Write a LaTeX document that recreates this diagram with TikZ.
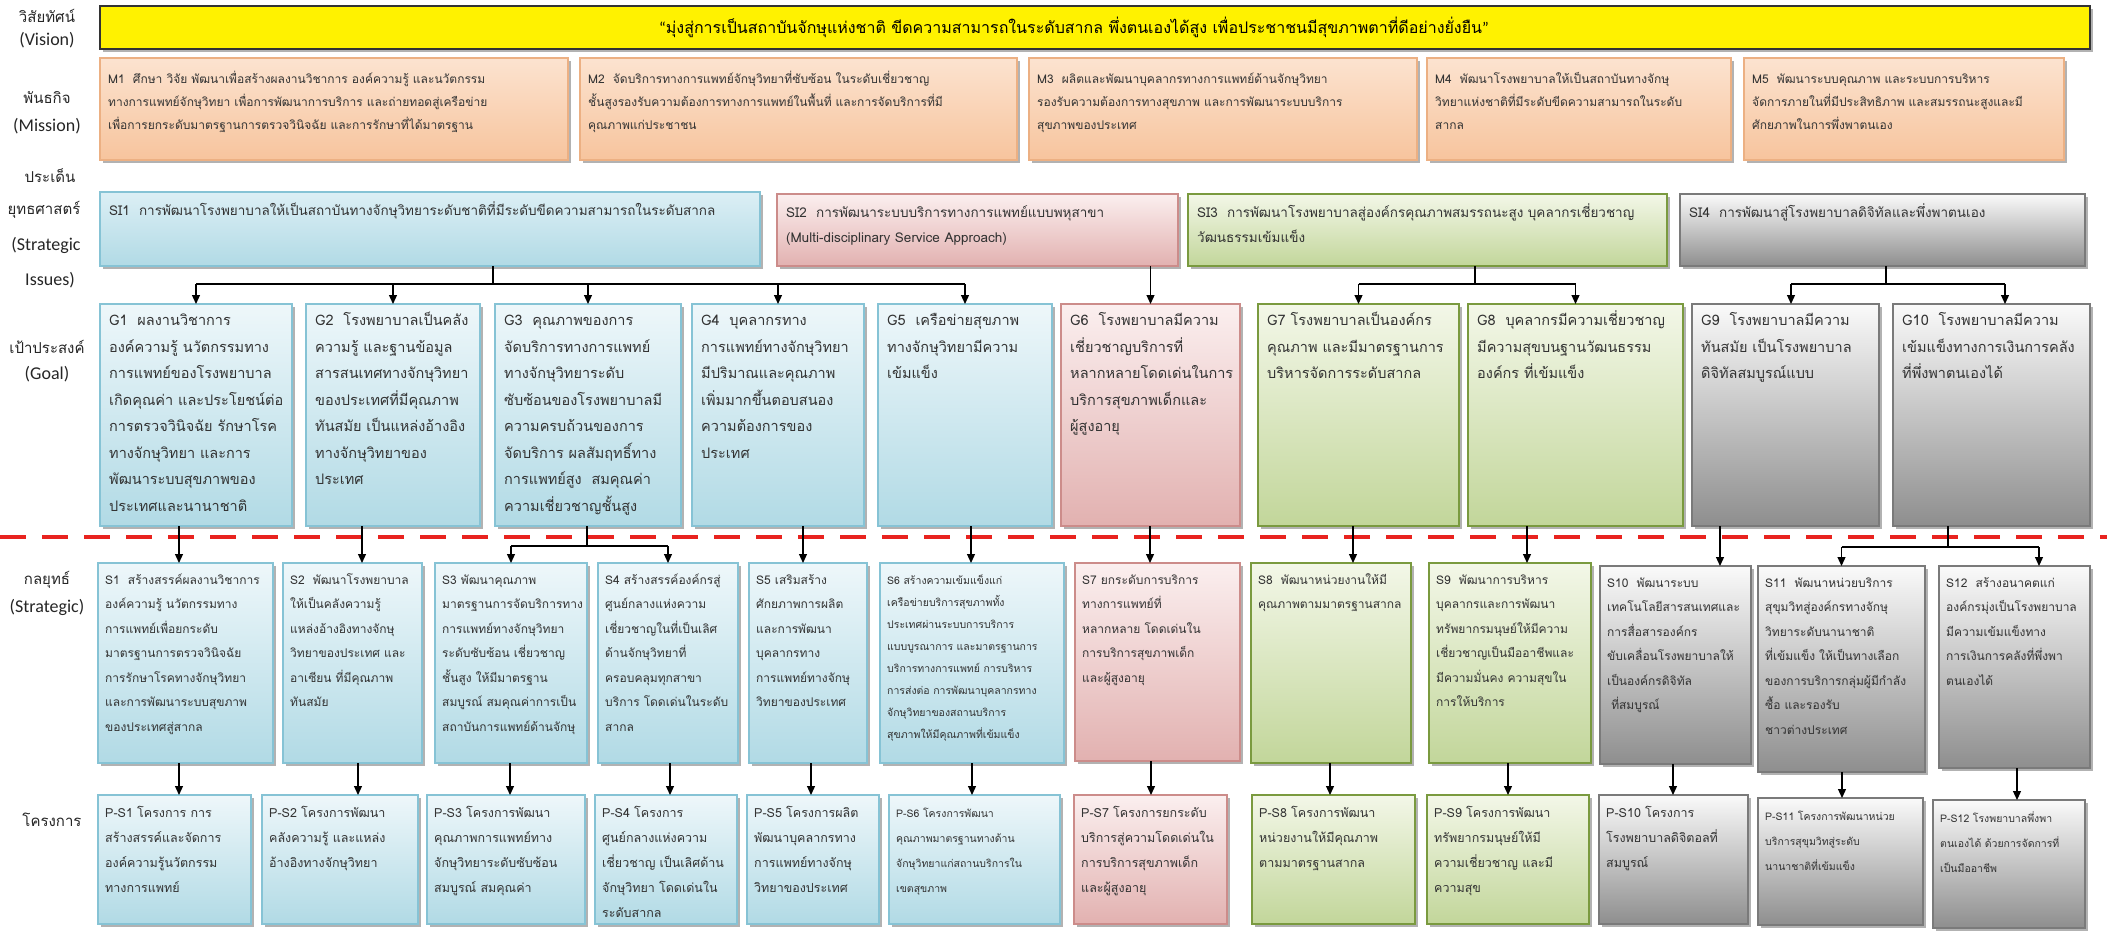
\documentclass[tikz,border=0pt]{standalone}
\usepackage{fontspec}
\setmainfont{Carlito}
\newfontfamily\thaif[Script=Thai]{Loma}
\usetikzlibrary{arrows.meta,shadows}
\definecolor{peachT}{HTML}{FCE3D0}
\definecolor{peachB}{HTML}{F7C49D}
\definecolor{peachL}{HTML}{ECB083}
\definecolor{blueT}{HTML}{EEF7FA}
\definecolor{blueB}{HTML}{B1DAE5}
\definecolor{blueL}{HTML}{86C3D5}
\definecolor{sibT}{HTML}{DCEFF5}
\definecolor{pinkT}{HTML}{FBEFEF}
\definecolor{pinkB}{HTML}{E2B1B0}
\definecolor{pinkL}{HTML}{CC8C8A}
\definecolor{greenT}{HTML}{F3F7E8}
\definecolor{greenB}{HTML}{C2D69A}
\definecolor{greenL}{HTML}{7A9A3F}
\definecolor{grayT}{HTML}{FAFAFA}
\definecolor{grayB}{HTML}{8E8E8E}
\definecolor{grayL}{HTML}{7A7A7A}
\definecolor{txt}{HTML}{333333}
\definecolor{sepred}{HTML}{E8231F}
\tikzset{
  box/.style={rectangle, draw, line width=1.4pt, inner sep=0pt, outer sep=0pt,
    drop shadow={shadow xshift=3pt, shadow yshift=-3pt, opacity=0.3, fill=black}},
  visbox/.style={rectangle, draw=black!80, line width=1.2pt, fill=yellow, inner sep=0pt, outer sep=0pt,
    drop shadow={shadow xshift=3pt, shadow yshift=-3pt, opacity=0.3, fill=black}},
  peachbox/.style={box, draw=peachL, top color=peachT, bottom color=peachB},
  bluebox/.style={box, draw=blueL, top color=blueT, bottom color=blueB},
  sibluebox/.style={box, draw=blueL, top color=sibT, bottom color=blueB},
  pinkbox/.style={box, draw=pinkL, top color=pinkT, bottom color=pinkB},
  greenbox/.style={box, draw=greenL, top color=greenT, bottom color=greenB},
  graybox/.style={box, draw=grayL, top color=grayT, bottom color=grayB},
  mtxt/.style={font=\thaif\fontsize{12}{23}\selectfont, text=txt, xshift=8pt, yshift=-9pt},
  sitxt/.style={font=\thaif\fontsize{13.5}{25}\selectfont, text=txt, xshift=9pt, yshift=-6pt},
  gtxt/.style={font=\thaif\fontsize{14.5}{26.5}\selectfont, text=txt, xshift=9pt, yshift=-3pt},
  stxt/.style={font=\thaif\fontsize{12}{24.5}\selectfont, text=txt, xshift=7pt, yshift=-4pt},
  sstxt/.style={font=\thaif\fontsize{10.5}{22}\selectfont, text=txt, xshift=7pt, yshift=-6pt},
  ptxt/.style={font=\thaif\fontsize{12.5}{25}\selectfont, text=txt, xshift=7pt, yshift=-5pt},
  pstxt/.style={font=\thaif\fontsize{10.5}{25}\selectfont, text=txt, xshift=7pt, yshift=-5pt},
  thlab/.style={font=\thaif\fontsize{15}{18}\selectfont, text=black!85},
  enlab/.style={font=\fontsize{18}{21}\selectfont, text=black!85},
  arr/.style={-{Triangle[length=9pt,width=8pt]}, line width=1.2pt, black},
  ln/.style={line width=1.2pt, black},
  reddash/.style={draw=sepred, line width=4pt, dash pattern=on 26pt off 16pt}
}
% #1 name, #2 box style, #3 x1, #4 y1, #5 x2, #6 y2, #7 text style, #8 text
\newcommand\bx[8]{%
  \node[#2, anchor=north west, minimum width={(#5-#3)*1pt}, minimum height={(#6-#4)*1pt}] (#1) at (#3,#4) {};
  \node[#7, anchor=north west, align=left, inner sep=0pt] (#1t) at (#1.north west) {\strut #8};
}
\newcommand\vc[3]{\coordinate (v#1#2) at (#3,0); \draw[arr] (#1.south -| v#1#2) -- (#2.north -| v#1#2);}
\begin{document}
\begin{tikzpicture}[x=1pt,y=-1pt]
\useasboundingbox[fill=white] (0,0) rectangle (2107,935);

% left labels
\node[thlab] (l1) at (47,16) {วิสัยทัศน์};
\node[enlab] (l1e) at (47,40) {(Vision)};
\node[thlab] (l2) at (47,98) {พันธกิจ};
\node[enlab] (l2e) at (47,126) {(Mission)};
\node[thlab] (l3) at (50,176) {ประเด็น};
\node[thlab] (l3b) at (44,210) {ยุทธศาสตร์};
\node[enlab] (l3e) at (46,245) {(Strategic};
\node[enlab] (l3f) at (50,280) {Issues)};
\node[thlab] (l4) at (47,347) {เป้าประสงค์};
\node[enlab] (l4e) at (47,374) {(Goal)};
\node[thlab] (l5) at (47,580) {กลยุทธ์};
\node[enlab] (l5e) at (47,607) {(Strategic)};
\node[thlab] (l6) at (52,820) {โครงการ};

% vision
\node[visbox, anchor=north west, minimum width=1990pt, minimum height=43pt] (V) at (100,6) {};
\node[font=\thaif\fontsize{16}{20}\selectfont, text=black] (Vt) at (1074,27) {{\rmfamily “}มุ่งสู่การเป็นสถาบันจักษุแห่งชาติ ขีดความสามารถในระดับสากล พึ่งตนเองได้สูง เพื่อประชาชนมีสุขภาพตาที่ดีอย่างยั่งยืน{\rmfamily ”}};

% missions
\bx{M1}{peachbox}{100}{58}{568}{160}{mtxt}{M1~~ศึกษา วิจัย พัฒนาเพื่อสร้างผลงานวิชาการ องค์ความรู้ และนวัตกรรม\\ทางการแพทย์จักษุวิทยา เพื่อการพัฒนาการบริการ และถ่ายทอดสู่เครือข่าย\\เพื่อการยกระดับมาตรฐานการตรวจวินิจฉัย และการรักษาที่ได้มาตรฐาน}
\bx{M2}{peachbox}{580}{58}{1017}{160}{mtxt}{M2~~จัดบริการทางการแพทย์จักษุวิทยาที่ซับซ้อน ในระดับเชี่ยวชาญ\\ชั้นสูงรองรับความต้องการทางการแพทย์ในพื้นที่ และการจัดบริการที่มี\\คุณภาพแก่ประชาชน}
\bx{M3}{peachbox}{1029}{58}{1417}{160}{mtxt}{M3~~ผลิตและพัฒนาบุคลากรทางการแพทย์ด้านจักษุวิทยา\\รองรับความต้องการทางสุขภาพ และการพัฒนาระบบบริการ\\สุขภาพของประเทศ}
\bx{M4}{peachbox}{1427}{58}{1731}{160}{mtxt}{M4~~พัฒนาโรงพยาบาลให้เป็นสถาบันทางจักษุ\\วิทยาแห่งชาติที่มีระดับขีดความสามารถในระดับ\\สากล}
\bx{M5}{peachbox}{1744}{58}{2064}{160}{mtxt}{M5~~พัฒนาระบบคุณภาพ และระบบการบริหาร\\จัดการภายในที่มีประสิทธิภาพ และสมรรถนะสูงและมี\\ศักยภาพในการพึ่งพาตนเอง}

% strategic issues
\bx{SI1}{sibluebox}{100}{192}{760}{266}{sitxt}{SI1~~การพัฒนาโรงพยาบาลให้เป็นสถาบันทางจักษุวิทยาระดับชาติที่มีระดับขีดความสามารถในระดับสากล}
\bx{SI2}{pinkbox}{777}{194}{1178}{266}{sitxt}{SI2~~การพัฒนาระบบบริการทางการแพทย์แบบพหุสาขา\\(Multi-disciplinary Service Approach)}
\bx{SI3}{greenbox}{1188}{194}{1667}{266}{sitxt}{SI3~~การพัฒนาโรงพยาบาลสู่องค์กรคุณภาพสมรรถนะสูง บุคลากรเชี่ยวชาญ\\วัฒนธรรมเข้มแข็ง}
\bx{SI4}{graybox}{1680}{194}{2085}{266}{sitxt}{SI4~~การพัฒนาสู่โรงพยาบาลดิจิทัลและพึ่งพาตนเอง}

% goals
\bx{G1}{bluebox}{100}{304}{292}{526}{gtxt}{G1~~ผลงานวิชาการ\\องค์ความรู้ นวัตกรรมทาง\\การแพทย์ของโรงพยาบาล\\เกิดคุณค่า และประโยชน์ต่อ\\การตรวจวินิจฉัย รักษาโรค\\ทางจักษุวิทยา และการ\\พัฒนาระบบสุขภาพของ\\ประเทศและนานาชาติ}
\bx{G2}{bluebox}{306}{304}{480}{526}{gtxt}{G2~~โรงพยาบาลเป็นคลัง\\ความรู้ และฐานข้อมูล\\สารสนเทศทางจักษุวิทยา\\ของประเทศที่มีคุณภาพ\\ทันสมัย เป็นแหล่งอ้างอิง\\ทางจักษุวิทยาของ\\ประเทศ}
\bx{G3}{bluebox}{495}{304}{681}{526}{gtxt}{G3~~คุณภาพของการ\\จัดบริการทางการแพทย์\\ทางจักษุวิทยาระดับ\\ซับซ้อนของโรงพยาบาลมี\\ความครบถ้วนของการ\\จัดบริการ ผลสัมฤทธิ์ทาง\\การแพทย์สูง~~สมคุณค่า\\ความเชี่ยวชาญชั้นสูง}
\bx{G4}{bluebox}{692}{304}{864}{526}{gtxt}{G4~~บุคลากรทาง\\การแพทย์ทางจักษุวิทยา\\มีปริมาณและคุณภาพ\\เพิ่มมากขึ้นตอบสนอง\\ความต้องการของ\\ประเทศ}
\bx{G5}{bluebox}{878}{304}{1052}{526}{gtxt}{G5~~เครือข่ายสุขภาพ\\ทางจักษุวิทยามีความ\\เข้มแข็ง}
\bx{G6}{pinkbox}{1061}{304}{1240}{526}{gtxt}{G6~~โรงพยาบาลมีความ\\เชี่ยวชาญบริการที่\\หลากหลายโดดเด่นในการ\\บริการสุขภาพเด็กและ\\ผู้สูงอายุ}
\bx{G7}{greenbox}{1258}{304}{1459}{526}{gtxt}{G7 โรงพยาบาลเป็นองค์กร\\คุณภาพ และมีมาตรฐานการ\\บริหารจัดการระดับสากล}
\bx{G8}{greenbox}{1468}{304}{1683}{526}{gtxt}{G8~~บุคลากรมีความเชี่ยวชาญ\\มีความสุขบนฐานวัฒนธรรม\\องค์กร ที่เข้มแข็ง}
\bx{G9}{graybox}{1692}{304}{1879}{526}{gtxt}{G9~~โรงพยาบาลมีความ\\ทันสมัย เป็นโรงพยาบาล\\ดิจิทัลสมบูรณ์แบบ}
\bx{G10}{graybox}{1893}{304}{2090}{526}{gtxt}{G10~~โรงพยาบาลมีความ\\เข้มแข็งทางการเงินการคลัง\\ที่พึ่งพาตนเองได้}

% strategies
\bx{S1}{bluebox}{98}{563}{273}{763}{stxt}{S1~~สร้างสรรค์ผลงานวิชาการ\\องค์ความรู้ นวัตกรรมทาง\\การแพทย์เพื่อยกระดับ\\มาตรฐานการตรวจวินิจฉัย\\การรักษาโรคทางจักษุวิทยา\\และการพัฒนาระบบสุขภาพ\\ของประเทศสู่สากล}
\bx{S2}{bluebox}{283}{563}{422}{763}{stxt}{S2~~พัฒนาโรงพยาบาล\\ให้เป็นคลังความรู้\\แหล่งอ้างอิงทางจักษุ\\วิทยาของประเทศ และ\\อาเซียน ที่มีคุณภาพ\\ทันสมัย}
\bx{S3}{bluebox}{435}{563}{587}{763}{stxt}{S3 พัฒนาคุณภาพ\\มาตรฐานการจัดบริการทาง\\การแพทย์ทางจักษุวิทยา\\ระดับซับซ้อน เชี่ยวชาญ\\ชั้นสูง ให้มีมาตรฐาน\\สมบูรณ์ สมคุณค่าการเป็น\\สถาบันการแพทย์ด้านจักษุ}
\bx{S4}{bluebox}{598}{563}{738}{763}{stxt}{S4 สร้างสรรค์องค์กรสู่\\ศูนย์กลางแห่งความ\\เชี่ยวชาญในที่เป็นเลิศ\\ด้านจักษุวิทยาที่\\ครอบคลุมทุกสาขา\\บริการ โดดเด่นในระดับ\\สากล}
\bx{S5}{bluebox}{749}{563}{867}{763}{stxt}{S5 เสริมสร้าง\\ศักยภาพการผลิต\\และการพัฒนา\\บุคลากรทาง\\การแพทย์ทางจักษุ\\วิทยาของประเทศ}
\bx{S6}{bluebox}{880}{563}{1064}{763}{sstxt}{S6 สร้างความเข้มแข็งแก่\\เครือข่ายบริการสุขภาพทั้ง\\ประเทศผ่านระบบการบริการ\\แบบบูรณาการ และมาตรฐานการ\\บริการทางการแพทย์ การบริหาร\\การส่งต่อ การพัฒนาบุคลากรทาง\\จักษุวิทยาของสถานบริการ\\สุขภาพให้มีคุณภาพที่เข้มแข็ง}
\bx{S7}{pinkbox}{1075}{563}{1240}{761}{stxt}{S7 ยกระดับการบริการ\\ทางการแพทย์ที่\\หลากหลาย โดดเด่นใน\\การบริการสุขภาพเด็ก\\และผู้สูงอายุ}
\bx{S8}{greenbox}{1251}{563}{1411}{763}{stxt}{S8~~พัฒนาหน่วยงานให้มี\\คุณภาพตามมาตรฐานสากล}
\bx{S9}{greenbox}{1429}{563}{1591}{763}{stxt}{S9~~พัฒนาการบริหาร\\บุคลากรและการพัฒนา\\ทรัพยากรมนุษย์ให้มีความ\\เชี่ยวชาญเป็นมืออาชีพและ\\มีความมั่นคง ความสุขใน\\การให้บริการ}
\bx{S10}{graybox}{1600}{566}{1751}{764}{stxt}{S10~~พัฒนาระบบ\\เทคโนโลยีสารสนเทศและ\\การสื่อสารองค์กร\\ขับเคลื่อนโรงพยาบาลให้\\เป็นองค์กรดิจิทัล\\~ที่สมบูรณ์}
\bx{S11}{graybox}{1758}{566}{1925}{772}{stxt}{S11~~พัฒนาหน่วยบริการ\\สุขุมวิทสู่องค์กรทางจักษุ\\วิทยาระดับนานาชาติ\\ที่เข้มแข็ง ให้เป็นทางเลือก\\ของการบริการกลุ่มผู้มีกำลัง\\ซื้อ และรองรับ\\ชาวต่างประเทศ}
\bx{S12}{graybox}{1939}{566}{2090}{768}{stxt}{S12~~สร้างอนาคตแก่\\องค์กรมุ่งเป็นโรงพยาบาล\\มีความเข้มแข็งทาง\\การเงินการคลังที่พึ่งพา\\ตนเองได้}

% projects
\bx{P1}{bluebox}{98}{795}{251}{924}{ptxt}{P-S1 โครงการ การ\\สร้างสรรค์และจัดการ\\องค์ความรู้นวัตกรรม\\ทางการแพทย์}
\bx{P2}{bluebox}{262}{795}{418}{924}{ptxt}{P-S2 โครงการพัฒนา\\คลังความรู้ และแหล่ง\\อ้างอิงทางจักษุวิทยา}
\bx{P3}{bluebox}{427}{795}{585}{924}{ptxt}{P-S3 โครงการพัฒนา\\คุณภาพการแพทย์ทาง\\จักษุวิทยาระดับซับซ้อน\\สมบูรณ์ สมคุณค่า}
\bx{P4}{bluebox}{595}{795}{737}{924}{ptxt}{P-S4 โครงการ\\ศูนย์กลางแห่งความ\\เชี่ยวชาญ เป็นเลิศด้าน\\จักษุวิทยา โดดเด่นใน\\ระดับสากล}
\bx{P5}{bluebox}{747}{795}{879}{924}{ptxt}{P-S5 โครงการผลิต\\พัฒนาบุคลากรทาง\\การแพทย์ทางจักษุ\\วิทยาของประเทศ}
\bx{P6}{bluebox}{889}{795}{1060}{924}{pstxt}{P-S6 โครงการพัฒนา\\คุณภาพมาตรฐานทางด้าน\\จักษุวิทยาแก่สถานบริการใน\\เขตสุขภาพ}
\bx{P7}{pinkbox}{1074}{795}{1227}{924}{ptxt}{P-S7 โครงการยกระดับ\\บริการสู่ความโดดเด่นใน\\การบริการสุขภาพเด็ก\\และผู้สูงอายุ}
\bx{P8}{greenbox}{1252}{795}{1415}{924}{ptxt}{P-S8 โครงการพัฒนา\\หน่วยงานให้มีคุณภาพ\\ตามมาตรฐานสากล}
\bx{P9}{greenbox}{1427}{795}{1589}{924}{ptxt}{P-S9 โครงการพัฒนา\\ทรัพยากรมนุษย์ให้มี\\ความเชี่ยวชาญ และมี\\ความสุข}
\bx{P10}{graybox}{1599}{795}{1748}{924}{ptxt}{P-S10 โครงการ\\โรงพยาบาลดิจิตอลที่\\สมบูรณ์}
\bx{P11}{graybox}{1758}{798}{1923}{925}{pstxt}{P-S11 โครงการพัฒนาหน่วย\\บริการสุขุมวิทสู่ระดับ\\นานาชาติที่เข้มแข็ง}
\bx{P12}{graybox}{1933}{800}{2085}{928}{pstxt}{P-S12 โรงพยาบาลพึ่งพา\\ตนเองได้ ด้วยการจัดการที่\\เป็นมืออาชีพ}

% red separator
\draw[reddash] (0,537) -- (2107,537);

% SI -> G connectors
\coordinate (j1) at (493,284);
\draw[ln] (j1 |- SI1.south) -- (j1);
\draw[ln] (G1.north |- j1) -- (G5.north |- j1);
\foreach \g in {G1,G2,G3,G4,G5} \draw[arr] (\g.north |- j1) -- (\g.north);
\draw[arr] (G6.north |- SI2.south) -- (G6.north);
\coordinate (j3) at (1475,284);
\draw[ln] (j3 |- SI3.south) -- (j3);
\draw[ln] (G7.north |- j3) -- (G8.north |- j3);
\foreach \g in {G7,G8} \draw[arr] (\g.north |- j3) -- (\g.north);
\coordinate (j4) at (1886,284);
\coordinate (a9) at (1791,284);
\coordinate (a10) at (2005,284);
\draw[ln] (j4 |- SI4.south) -- (j4);
\draw[ln] (a9) -- (a10);
\draw[arr] (a9) -- (a9 |- G9.north);
\draw[arr] (a10) -- (a10 |- G10.north);

% G -> S connectors
\vc{G1}{S1}{179}
\vc{G2}{S2}{362}
\coordinate (j5) at (587,546);
\draw[ln] (j5 |- G3.south) -- (j5);
\draw[ln] (S3.north |- j5) -- (S4.north |- j5);
\draw[arr] (S3.north |- j5) -- (S3.north);
\draw[arr] (S4.north |- j5) -- (S4.north);
\vc{G4}{S5}{803}
\vc{G5}{S6}{971}
\vc{G6}{S7}{1150}
\vc{G7}{S8}{1353}
\vc{G8}{S9}{1527}
\vc{G9}{S10}{1720}
\coordinate (j6) at (1948,547);
\coordinate (a12) at (2039,547);
\draw[ln] (j6 |- G10.south) -- (j6);
\draw[ln] (S11.north |- j6) -- (a12);
\draw[arr] (S11.north |- j6) -- (S11.north);
\draw[arr] (a12) -- (a12 |- S12.north);

% S -> P connectors
\vc{S1}{P1}{179}
\vc{S2}{P2}{358}
\vc{S3}{P3}{510}
\vc{S4}{P4}{670}
\vc{S5}{P5}{811}
\vc{S6}{P6}{972}
\vc{S7}{P7}{1151}
\vc{S8}{P8}{1330}
\vc{S9}{P9}{1508}
\vc{S10}{P10}{1673}
\vc{S11}{P11}{1842}
\vc{S12}{P12}{2017}
\end{tikzpicture}
\end{document}
